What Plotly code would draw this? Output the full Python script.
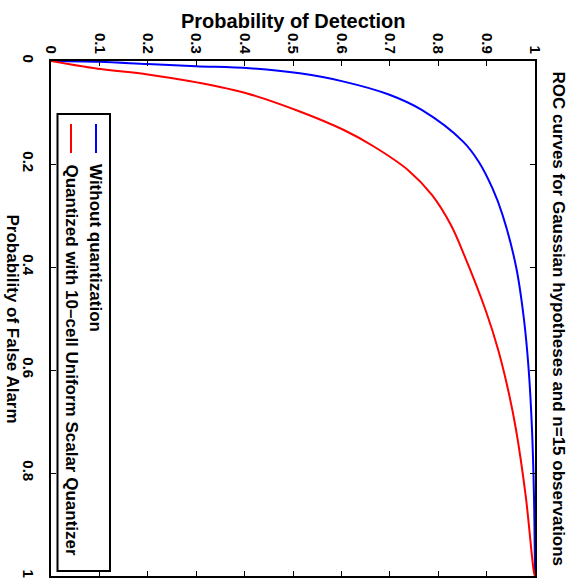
import plotly.graph_objects as go

# Without quantization: probability of false alarm vs probability of detection
blue_pfa = [0.0, 0.0015, 0.006, 0.010, 0.014, 0.024, 0.040, 0.065, 0.095,
            0.157, 0.196, 0.247, 0.299, 0.40, 0.50, 0.60, 0.72, 0.85, 1.0]
blue_pd = [0.0, 0.10, 0.20, 0.30, 0.41, 0.514, 0.605, 0.698, 0.766,
           0.852, 0.884, 0.912, 0.933, 0.961, 0.977, 0.987, 0.994, 0.998, 1.0]

# Quantized with 10-cell uniform scalar quantizer
red_pfa = [0.0, 0.015, 0.026, 0.042, 0.0635, 0.098, 0.134, 0.166, 0.212, 0.260, 0.318,
           0.373, 0.484, 0.561, 0.645, 0.717, 0.846, 0.994, 1.0]
red_pd = [0.0, 0.097, 0.20, 0.304, 0.407, 0.514, 0.605, 0.667, 0.738, 0.787, 0.826,
          0.852, 0.898, 0.924, 0.946, 0.961, 0.981, 0.998, 1.0]

pd_ticks = [0, 0.1, 0.2, 0.3, 0.4, 0.5, 0.6, 0.7, 0.8, 0.9, 1]
pd_labels = ["0", "0.1", "0.2", "0.3", "0.4", "0.5", "0.6", "0.7", "0.8", "0.9", "1"]
pfa_ticks = [0, 0.2, 0.4, 0.6, 0.8, 1]
pfa_labels = ["0", "0.2", "0.4", "0.6", "0.8", "1"]

series_names = ["Without quantization", "Quantized with 10\u2013cell Uniform Scalar Quantizer"]
title_text = "ROC curves for Gaussian hypotheses and n=15 observations"
xlabel = "Probability of Detection"
ylabel = "Probability of False Alarm"

W, H = 576, 580
L, R, T, B = 51, 535, 61, 576
FONT = "Liberation Sans, Arial, Helvetica, sans-serif"


def px(x):
    return (x - L) / (R - L)


def py(y):
    return (B - y) / (B - T)


fig = go.Figure()
fig.add_trace(go.Scatter(x=blue_pd, y=blue_pfa, mode="lines",
                         line=dict(color="#0000ff", width=2, shape="spline", smoothing=1.0),
                         name=series_names[0]))
fig.add_trace(go.Scatter(x=red_pd, y=red_pfa, mode="lines",
                         line=dict(color="#ff0000", width=2, shape="spline", smoothing=1.0),
                         name=series_names[1]))

tickfont = dict(family=FONT, size=15, color="black", weight="bold")
axis_common = dict(showgrid=False, zeroline=False, showline=True, linecolor="black", linewidth=2,
                   ticks="inside", ticklen=5, tickwidth=1, tickcolor="black", mirror="ticks",
                   tickangle=90, tickfont=tickfont)

fig.update_layout(
    width=W, height=H,
    margin=dict(l=L, r=W - R, t=T, b=H - B, autoexpand=False),
    plot_bgcolor="white", paper_bgcolor="white",
    showlegend=False,
    xaxis=dict(range=[0, 1], side="top", tickvals=pd_ticks, ticktext=pd_labels, **axis_common),
    yaxis=dict(range=[1, 0], tickvals=pfa_ticks, ticktext=pfa_labels, ticklabelstandoff=8,
               **axis_common),
)

annfont = dict(family=FONT, size=17, color="black", weight="bold")
fig.add_annotation(text=xlabel, xref="paper", yref="paper", x=px(293), y=py(21), showarrow=False,
                   xanchor="center", yanchor="middle",
                   font=dict(family=FONT, size=20, color="black", weight="bold"))
fig.add_annotation(text=ylabel, xref="paper", yref="paper", x=px(12), y=py(318.5), showarrow=False,
                   textangle=90, xanchor="center", yanchor="middle", font=annfont)
fig.add_annotation(text=title_text, xref="paper", yref="paper", x=px(558), y=py(318.5), showarrow=False,
                   textangle=90, xanchor="center", yanchor="middle", font=annfont)

# Legend box (rotated with the chart)
fig.add_shape(type="rect", xref="paper", yref="paper", x0=px(57.5), x1=px(110), y0=py(571), y1=py(114),
              line=dict(color="black", width=2), fillcolor="white", layer="above")
for xc, col, name in [(96, "#0000ff", series_names[0]), (71, "#ff0000", series_names[1])]:
    fig.add_shape(type="line", xref="paper", yref="paper", x0=px(xc), x1=px(xc), y0=py(124), y1=py(153),
                  line=dict(color=col, width=2), layer="above")
    fig.add_annotation(text=name, xref="paper", yref="paper", x=px(xc), y=py(162), showarrow=False,
                       textangle=90, xanchor="center", yanchor="top", font=annfont)

fig.write_html("out.html", config={"displayModeBar": False},
               post_script="document.body.style.margin='0px';")
